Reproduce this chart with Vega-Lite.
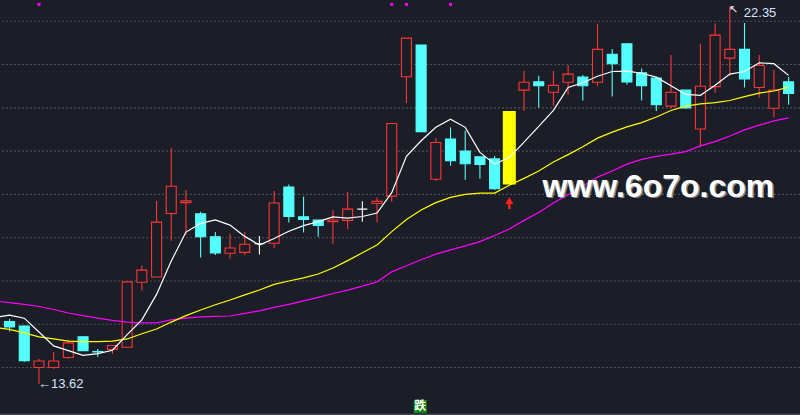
{
  "$schema": "https://vega.github.io/schema/vega-lite/v6.json",
  "description": "Daily candlestick chart with MA5, MA20 and MA60 lines.",
  "width": 800,
  "height": 415,
  "autosize": {"type": "none"},
  "padding": 0,
  "background": "#1b1e26",
  "config": {"view": {"stroke": null}},
  "datasets": {
    "candles": [
      {"i": 0, "o": 15.06, "c": 14.94, "h": 15.12, "l": 14.83, "k": "down"},
      {"i": 1, "o": 14.96, "c": 14.16, "h": 14.97, "l": 14.13, "k": "down"},
      {"i": 2, "o": 14.00, "c": 14.15, "h": 14.20, "l": 13.62, "k": "up"},
      {"i": 3, "o": 14.00, "c": 14.15, "h": 14.36, "l": 13.97, "k": "up"},
      {"i": 4, "o": 14.23, "c": 14.57, "h": 14.64, "l": 14.20, "k": "up"},
      {"i": 5, "o": 14.71, "c": 14.39, "h": 14.71, "l": 14.39, "k": "down"},
      {"i": 6, "o": 14.37, "c": 14.36, "h": 14.43, "l": 14.25, "k": "down"},
      {"i": 7, "o": 14.42, "c": 14.51, "h": 14.51, "l": 14.31, "k": "up"},
      {"i": 8, "o": 14.47, "c": 15.98, "h": 15.98, "l": 14.47, "k": "up"},
      {"i": 9, "o": 15.97, "c": 16.25, "h": 16.36, "l": 15.78, "k": "up"},
      {"i": 10, "o": 16.09, "c": 17.36, "h": 17.85, "l": 16.09, "k": "up"},
      {"i": 11, "o": 17.56, "c": 18.19, "h": 19.07, "l": 16.93, "k": "up"},
      {"i": 12, "o": 17.81, "c": 17.85, "h": 18.10, "l": 17.06, "k": "up"},
      {"i": 13, "o": 17.55, "c": 17.02, "h": 17.60, "l": 16.54, "k": "down"},
      {"i": 14, "o": 17.02, "c": 16.65, "h": 17.13, "l": 16.60, "k": "down"},
      {"i": 15, "o": 16.64, "c": 16.76, "h": 17.09, "l": 16.52, "k": "up"},
      {"i": 16, "o": 16.66, "c": 16.85, "h": 17.13, "l": 16.60, "k": "up"},
      {"i": 17, "o": 16.86, "c": 16.86, "h": 17.04, "l": 16.61, "k": "flat"},
      {"i": 18, "o": 16.87, "c": 17.80, "h": 18.08, "l": 16.76, "k": "up"},
      {"i": 19, "o": 18.17, "c": 17.49, "h": 18.23, "l": 17.35, "k": "down"},
      {"i": 20, "o": 17.48, "c": 17.42, "h": 17.95, "l": 17.12, "k": "down"},
      {"i": 21, "o": 17.41, "c": 17.28, "h": 17.41, "l": 17.02, "k": "down"},
      {"i": 22, "o": 17.37, "c": 17.41, "h": 17.64, "l": 16.86, "k": "up"},
      {"i": 23, "o": 17.40, "c": 17.66, "h": 18.06, "l": 17.20, "k": "up"},
      {"i": 24, "o": 17.66, "c": 17.66, "h": 17.84, "l": 17.37, "k": "flat"},
      {"i": 25, "o": 17.79, "c": 17.84, "h": 17.93, "l": 17.35, "k": "up"},
      {"i": 26, "o": 17.96, "c": 19.64, "h": 19.64, "l": 17.83, "k": "up"},
      {"i": 27, "o": 20.72, "c": 21.61, "h": 21.61, "l": 20.11, "k": "up"},
      {"i": 28, "o": 21.45, "c": 19.45, "h": 21.45, "l": 19.45, "k": "down"},
      {"i": 29, "o": 18.35, "c": 19.20, "h": 19.30, "l": 18.31, "k": "up"},
      {"i": 30, "o": 19.28, "c": 18.78, "h": 19.55, "l": 18.66, "k": "down"},
      {"i": 31, "o": 19.00, "c": 18.71, "h": 19.47, "l": 18.34, "k": "down"},
      {"i": 32, "o": 18.87, "c": 18.69, "h": 18.87, "l": 18.36, "k": "down"},
      {"i": 33, "o": 18.82, "c": 18.13, "h": 18.89, "l": 18.10, "k": "down"},
      {"i": 34, "o": 18.23, "c": 19.93, "h": 19.93, "l": 18.23, "k": "hl"},
      {"i": 35, "o": 20.41, "c": 20.59, "h": 20.85, "l": 19.93, "k": "up"},
      {"i": 36, "o": 20.60, "c": 20.51, "h": 20.74, "l": 20.00, "k": "down"},
      {"i": 37, "o": 20.36, "c": 20.52, "h": 20.85, "l": 20.05, "k": "up"},
      {"i": 38, "o": 20.59, "c": 20.78, "h": 20.99, "l": 20.30, "k": "up"},
      {"i": 39, "o": 20.71, "c": 20.51, "h": 20.76, "l": 20.17, "k": "down"},
      {"i": 40, "o": 20.59, "c": 21.35, "h": 21.94, "l": 20.51, "k": "up"},
      {"i": 41, "o": 21.24, "c": 21.02, "h": 21.36, "l": 20.26, "k": "down"},
      {"i": 42, "o": 21.48, "c": 20.60, "h": 21.48, "l": 20.54, "k": "down"},
      {"i": 43, "o": 20.81, "c": 20.51, "h": 20.91, "l": 20.17, "k": "down"},
      {"i": 44, "o": 20.69, "c": 20.07, "h": 20.69, "l": 19.93, "k": "down"},
      {"i": 45, "o": 20.04, "c": 20.36, "h": 21.22, "l": 19.99, "k": "up"},
      {"i": 46, "o": 20.41, "c": 20.00, "h": 20.41, "l": 19.98, "k": "down"},
      {"i": 47, "o": 19.51, "c": 20.50, "h": 21.48, "l": 19.10, "k": "up"},
      {"i": 48, "o": 20.49, "c": 21.68, "h": 21.95, "l": 20.35, "k": "up"},
      {"i": 49, "o": 21.15, "c": 21.35, "h": 22.35, "l": 20.74, "k": "up"},
      {"i": 50, "o": 21.35, "c": 20.67, "h": 21.96, "l": 20.47, "k": "down"},
      {"i": 51, "o": 20.47, "c": 20.98, "h": 21.22, "l": 20.24, "k": "up"},
      {"i": 52, "o": 19.99, "c": 20.41, "h": 20.88, "l": 19.78, "k": "up"},
      {"i": 53, "o": 20.60, "c": 20.33, "h": 20.71, "l": 20.07, "k": "down"}
    ],
    "ma": [
      {"i": -1, "ma5": 15.16, "ma20": 14.93, "ma60": 15.54},
      {"i": 0, "ma5": 15.21, "ma20": 14.88, "ma60": 15.50},
      {"i": 1, "ma5": 15.14, "ma20": 14.80, "ma60": 15.46},
      {"i": 2, "ma5": 14.82, "ma20": 14.71, "ma60": 15.41},
      {"i": 3, "ma5": 14.50, "ma20": 14.66, "ma60": 15.34},
      {"i": 4, "ma5": 14.39, "ma20": 14.61, "ma60": 15.26},
      {"i": 5, "ma5": 14.28, "ma20": 14.60, "ma60": 15.20},
      {"i": 6, "ma5": 14.32, "ma20": 14.60, "ma60": 15.14},
      {"i": 7, "ma5": 14.40, "ma20": 14.61, "ma60": 15.09},
      {"i": 8, "ma5": 14.76, "ma20": 14.66, "ma60": 15.05},
      {"i": 9, "ma5": 15.10, "ma20": 14.78, "ma60": 15.03},
      {"i": 10, "ma5": 15.69, "ma20": 14.89, "ma60": 15.03},
      {"i": 11, "ma5": 16.46, "ma20": 15.05, "ma60": 15.10},
      {"i": 12, "ma5": 17.13, "ma20": 15.20, "ma60": 15.14},
      {"i": 13, "ma5": 17.33, "ma20": 15.33, "ma60": 15.17},
      {"i": 14, "ma5": 17.41, "ma20": 15.45, "ma60": 15.18},
      {"i": 15, "ma5": 17.29, "ma20": 15.56, "ma60": 15.19},
      {"i": 16, "ma5": 17.03, "ma20": 15.68, "ma60": 15.25},
      {"i": 17, "ma5": 16.83, "ma20": 15.79, "ma60": 15.31},
      {"i": 18, "ma5": 16.98, "ma20": 15.92, "ma60": 15.39},
      {"i": 19, "ma5": 17.15, "ma20": 16.00, "ma60": 15.46},
      {"i": 20, "ma5": 17.28, "ma20": 16.07, "ma60": 15.54},
      {"i": 21, "ma5": 17.37, "ma20": 16.16, "ma60": 15.62},
      {"i": 22, "ma5": 17.48, "ma20": 16.30, "ma60": 15.71},
      {"i": 23, "ma5": 17.45, "ma20": 16.47, "ma60": 15.79},
      {"i": 24, "ma5": 17.49, "ma20": 16.65, "ma60": 15.88},
      {"i": 25, "ma5": 17.57, "ma20": 16.83, "ma60": 15.98},
      {"i": 26, "ma5": 18.04, "ma20": 17.14, "ma60": 16.21},
      {"i": 27, "ma5": 18.88, "ma20": 17.42, "ma60": 16.35},
      {"i": 28, "ma5": 19.24, "ma20": 17.64, "ma60": 16.49},
      {"i": 29, "ma5": 19.55, "ma20": 17.81, "ma60": 16.62},
      {"i": 30, "ma5": 19.74, "ma20": 17.93, "ma60": 16.72},
      {"i": 31, "ma5": 19.55, "ma20": 18.00, "ma60": 16.81},
      {"i": 32, "ma5": 18.97, "ma20": 18.03, "ma60": 16.91},
      {"i": 33, "ma5": 18.70, "ma20": 18.03, "ma60": 17.05},
      {"i": 34, "ma5": 18.85, "ma20": 18.21, "ma60": 17.20},
      {"i": 35, "ma5": 19.21, "ma20": 18.37, "ma60": 17.40},
      {"i": 36, "ma5": 19.57, "ma20": 18.54, "ma60": 17.58},
      {"i": 37, "ma5": 19.94, "ma20": 18.75, "ma60": 17.80},
      {"i": 38, "ma5": 20.47, "ma20": 18.92, "ma60": 17.99},
      {"i": 39, "ma5": 20.58, "ma20": 19.10, "ma60": 18.19},
      {"i": 40, "ma5": 20.73, "ma20": 19.30, "ma60": 18.40},
      {"i": 41, "ma5": 20.84, "ma20": 19.44, "ma60": 18.54},
      {"i": 42, "ma5": 20.85, "ma20": 19.56, "ma60": 18.70},
      {"i": 43, "ma5": 20.80, "ma20": 19.66, "ma60": 18.81},
      {"i": 44, "ma5": 20.71, "ma20": 19.79, "ma60": 18.88},
      {"i": 45, "ma5": 20.51, "ma20": 19.94, "ma60": 18.93},
      {"i": 46, "ma5": 20.31, "ma20": 20.04, "ma60": 18.99},
      {"i": 47, "ma5": 20.29, "ma20": 20.09, "ma60": 19.12},
      {"i": 48, "ma5": 20.52, "ma20": 20.12, "ma60": 19.22},
      {"i": 49, "ma5": 20.78, "ma20": 20.17, "ma60": 19.35},
      {"i": 50, "ma5": 20.84, "ma20": 20.26, "ma60": 19.49},
      {"i": 51, "ma5": 21.04, "ma20": 20.34, "ma60": 19.60},
      {"i": 52, "ma5": 21.02, "ma20": 20.39, "ma60": 19.70},
      {"i": 53, "ma5": 20.75, "ma20": 20.48, "ma60": 19.77}
    ],
    "levels": [{"p": 14}, {"p": 15}, {"p": 16}, {"p": 17}, {"p": 18}, {"p": 19}, {"p": 20}, {"p": 21}, {"p": 22}],
    "flags": [{"i": 2}, {"i": 26}, {"i": 27}, {"i": 30}],
    "signal": [{"i": 34, "tip": 17.86, "s1": 17.80, "s2": 17.66}]
  },
  "layer": [
    {
      "data": {"name": "levels"},
      "mark": {"type": "rule", "color": "#4c505a", "strokeWidth": 1.1, "strokeDash": [2, 2]},
      "encoding": {
        "y": {"field": "p", "type": "quantitative", "scale": {"domain": [12.903, 22.492], "nice": false, "zero": false}, "axis": null}
      }
    },
    {
      "data": {"values": [{"p": 12.922}]},
      "mark": {"type": "rule", "color": "#40444e", "strokeWidth": 1.5},
      "encoding": {
        "y": {"field": "p", "type": "quantitative", "scale": {"domain": [12.903, 22.492], "nice": false, "zero": false}, "axis": null}
      }
    },
    {
      "data": {"name": "candles"},
      "mark": {"type": "rule", "strokeWidth": 1.1},
      "encoding": {
        "x": {"field": "i", "type": "quantitative", "scale": {"domain": [-0.31, 53.435], "nice": false, "zero": false}, "axis": null},
        "y": {"field": "h", "type": "quantitative", "scale": {"domain": [12.903, 22.492], "nice": false, "zero": false}, "axis": null},
        "y2": {"field": "l"},
        "color": {
          "field": "k", "type": "nominal", "legend": null,
          "scale": {"domain": ["up", "down", "flat", "hl"], "range": ["#ff3535", "#54ffff", "#ffffff", "#ffff00"]}
        }
      }
    },
    {
      "data": {"name": "candles"},
      "transform": [{"filter": "datum.k != 'hl'"}],
      "mark": {"type": "bar", "width": 10, "strokeWidth": 1.1},
      "encoding": {
        "x": {"field": "i", "type": "quantitative", "scale": {"domain": [-0.31, 53.435], "nice": false, "zero": false}, "axis": null},
        "y": {"field": "o", "type": "quantitative", "scale": {"domain": [12.903, 22.492], "nice": false, "zero": false}, "axis": null},
        "y2": {"field": "c"},
        "fill": {
          "field": "k", "type": "nominal", "legend": null,
          "scale": {"domain": ["up", "down", "flat"], "range": ["#1b1e26", "#54ffff", "#ffffff"]}
        },
        "stroke": {
          "field": "k", "type": "nominal", "legend": null,
          "scale": {"domain": ["up", "down", "flat"], "range": ["#ff3535", "#54ffff", "#ffffff"]}
        }
      }
    },
    {
      "data": {"name": "candles"},
      "transform": [{"filter": "datum.k == 'hl'"}],
      "mark": {"type": "bar", "width": 13, "color": "#ffff00"},
      "encoding": {
        "x": {"field": "i", "type": "quantitative", "scale": {"domain": [-0.31, 53.435], "nice": false, "zero": false}, "axis": null},
        "y": {"field": "o", "type": "quantitative", "scale": {"domain": [12.903, 22.492], "nice": false, "zero": false}, "axis": null},
        "y2": {"field": "c"}
      }
    },
    {
      "data": {"name": "signal"},
      "mark": {"type": "rule", "color": "#ff2020", "strokeWidth": 2.5},
      "encoding": {
        "x": {"field": "i", "type": "quantitative", "scale": {"domain": [-0.31, 53.435], "nice": false, "zero": false}, "axis": null},
        "y": {"field": "s1", "type": "quantitative", "scale": {"domain": [12.903, 22.492], "nice": false, "zero": false}, "axis": null},
        "y2": {"field": "s2"}
      }
    },
    {
      "data": {"name": "signal"},
      "mark": {"type": "point", "shape": "triangle-up", "filled": true, "color": "#ff2020", "size": 64, "opacity": 1},
      "encoding": {
        "x": {"field": "i", "type": "quantitative", "scale": {"domain": [-0.31, 53.435], "nice": false, "zero": false}, "axis": null},
        "y": {"field": "tip", "type": "quantitative", "scale": {"domain": [12.903, 22.492], "nice": false, "zero": false}, "axis": null}
      }
    },
    {
      "data": {"name": "ma"},
      "mark": {"type": "line", "stroke": "#ff00ff", "strokeWidth": 1.2, "clip": true},
      "encoding": {
        "x": {"field": "i", "type": "quantitative", "scale": {"domain": [-0.31, 53.435], "nice": false, "zero": false}, "axis": null},
        "y": {"field": "ma60", "type": "quantitative", "scale": {"domain": [12.903, 22.492], "nice": false, "zero": false}, "axis": null}
      }
    },
    {
      "data": {"name": "ma"},
      "mark": {"type": "line", "stroke": "#ffff00", "strokeWidth": 1.2, "clip": true},
      "encoding": {
        "x": {"field": "i", "type": "quantitative", "scale": {"domain": [-0.31, 53.435], "nice": false, "zero": false}, "axis": null},
        "y": {"field": "ma20", "type": "quantitative", "scale": {"domain": [12.903, 22.492], "nice": false, "zero": false}, "axis": null}
      }
    },
    {
      "data": {"name": "ma"},
      "mark": {"type": "line", "stroke": "#ffffff", "strokeWidth": 1.2, "clip": true},
      "encoding": {
        "x": {"field": "i", "type": "quantitative", "scale": {"domain": [-0.31, 53.435], "nice": false, "zero": false}, "axis": null},
        "y": {"field": "ma5", "type": "quantitative", "scale": {"domain": [12.903, 22.492], "nice": false, "zero": false}, "axis": null}
      }
    },
    {
      "data": {"name": "flags"},
      "mark": {"type": "square", "filled": true, "color": "#ff00ff", "size": 9, "opacity": 1},
      "encoding": {
        "x": {"field": "i", "type": "quantitative", "scale": {"domain": [-0.31, 53.435], "nice": false, "zero": false}, "axis": null},
        "y": {"datum": 22.39, "type": "quantitative", "scale": {"domain": [12.903, 22.492], "nice": false, "zero": false}, "axis": null}
      }
    },
    {
      "data": {"values": [{"i": 2, "p": 13.62, "t": "←13.62"}]},
      "mark": {"type": "text", "align": "left", "baseline": "middle", "dx": -1, "font": "Liberation Sans", "fontSize": 13, "color": "#d8e4ff"},
      "encoding": {
        "x": {"field": "i", "type": "quantitative", "scale": {"domain": [-0.31, 53.435], "nice": false, "zero": false}, "axis": null},
        "y": {"field": "p", "type": "quantitative", "scale": {"domain": [12.903, 22.492], "nice": false, "zero": false}, "axis": null},
        "text": {"field": "t"}
      }
    },
    {
      "data": {"values": [{"i": 49, "p": 22.35, "t": "↖"}]},
      "mark": {"type": "text", "align": "left", "baseline": "top", "dx": -1, "dy": -2, "font": "DejaVu Sans", "fontSize": 11, "color": "#e8eeff"},
      "encoding": {
        "x": {"field": "i", "type": "quantitative", "scale": {"domain": [-0.31, 53.435], "nice": false, "zero": false}, "axis": null},
        "y": {"field": "p", "type": "quantitative", "scale": {"domain": [12.903, 22.492], "nice": false, "zero": false}, "axis": null},
        "text": {"field": "t"}
      }
    },
    {
      "data": {"values": [{"i": 49, "p": 22.2, "t": "22.35"}]},
      "mark": {"type": "text", "align": "left", "baseline": "middle", "dx": 14, "font": "Liberation Sans", "fontSize": 13, "color": "#d8e4ff"},
      "encoding": {
        "x": {"field": "i", "type": "quantitative", "scale": {"domain": [-0.31, 53.435], "nice": false, "zero": false}, "axis": null},
        "y": {"field": "p", "type": "quantitative", "scale": {"domain": [12.903, 22.492], "nice": false, "zero": false}, "axis": null},
        "text": {"field": "t"}
      }
    },
    {
      "data": {"values": [{"i": 44.14, "p": 17.947, "t": "www.6o7o.com"}]},
      "mark": {"type": "text", "align": "center", "baseline": "alphabetic", "dx": 1.5, "dy": 1.5, "font": "Liberation Sans", "fontWeight": "bold", "fontSize": 32, "color": "#8a8a8a"},
      "encoding": {
        "x": {"field": "i", "type": "quantitative", "scale": {"domain": [-0.31, 53.435], "nice": false, "zero": false}, "axis": null},
        "y": {"field": "p", "type": "quantitative", "scale": {"domain": [12.903, 22.492], "nice": false, "zero": false}, "axis": null},
        "text": {"field": "t"}
      }
    },
    {
      "data": {"values": [{"i": 44.14, "p": 17.947, "t": "www.6o7o.com"}]},
      "mark": {"type": "text", "align": "center", "baseline": "alphabetic", "font": "Liberation Sans", "fontWeight": "bold", "fontSize": 32, "color": "#ffffff"},
      "encoding": {
        "x": {"field": "i", "type": "quantitative", "scale": {"domain": [-0.31, 53.435], "nice": false, "zero": false}, "axis": null},
        "y": {"field": "p", "type": "quantitative", "scale": {"domain": [12.903, 22.492], "nice": false, "zero": false}, "axis": null},
        "text": {"field": "t"}
      }
    },
    {
      "data": {"values": [{"i": 27.94, "p": 13.10, "t": "跌"}]},
      "mark": {"type": "square", "filled": true, "color": "#0a8a0a", "size": 169, "opacity": 1},
      "encoding": {
        "x": {"field": "i", "type": "quantitative", "scale": {"domain": [-0.31, 53.435], "nice": false, "zero": false}, "axis": null},
        "y": {"field": "p", "type": "quantitative", "scale": {"domain": [12.903, 22.492], "nice": false, "zero": false}, "axis": null}
      }
    },
    {
      "data": {"values": [{"i": 27.94, "p": 13.10, "t": "跌"}]},
      "mark": {"type": "text", "align": "center", "baseline": "middle", "font": "Noto Sans CJK SC", "fontWeight": "bold", "fontSize": 12, "color": "#ffffff"},
      "encoding": {
        "x": {"field": "i", "type": "quantitative", "scale": {"domain": [-0.31, 53.435], "nice": false, "zero": false}, "axis": null},
        "y": {"field": "p", "type": "quantitative", "scale": {"domain": [12.903, 22.492], "nice": false, "zero": false}, "axis": null},
        "text": {"field": "t"}
      }
    }
  ]
}
